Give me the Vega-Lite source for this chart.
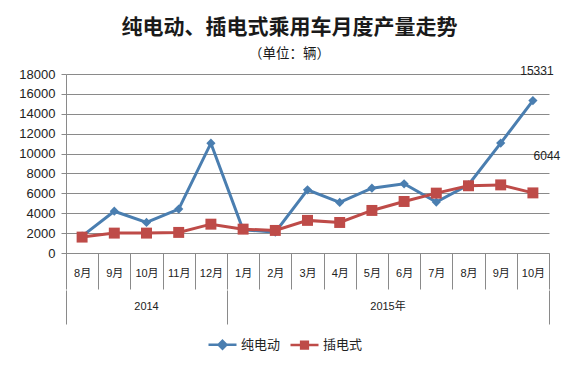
{
  "$schema": "https://vega.github.io/schema/vega-lite/v6.json",
  "background": "white",
  "padding": {"left": 18, "top": 17, "right": 10, "bottom": 5},
  "title": {
    "text": "纯电动、插电式乘用车月度产量走势",
    "subtitle": "（单位：辆）",
    "anchor": "middle",
    "frame": "bounds",
    "font": "Noto Sans CJK SC",
    "fontSize": 21,
    "fontWeight": "bold",
    "color": "#1a1a1a",
    "subtitleFont": "Noto Sans CJK SC",
    "subtitleFontSize": 13.5,
    "subtitleColor": "#1a1a1a",
    "subtitlePadding": 9,
    "offset": 4
  },
  "datasets": {
    "prod": [
      {"key": "2014-8月", "year": "2014", "series": "纯电动", "value": 1700},
      {"key": "2014-9月", "year": "2014", "series": "纯电动", "value": 4200},
      {"key": "2014-10月", "year": "2014", "series": "纯电动", "value": 3070},
      {"key": "2014-11月", "year": "2014", "series": "纯电动", "value": 4420},
      {"key": "2014-12月", "year": "2014", "series": "纯电动", "value": 11040},
      {"key": "2015-1月", "year": "2015年", "series": "纯电动", "value": 2340},
      {"key": "2015-2月", "year": "2015年", "series": "纯电动", "value": 2100},
      {"key": "2015-3月", "year": "2015年", "series": "纯电动", "value": 6350},
      {"key": "2015-4月", "year": "2015年", "series": "纯电动", "value": 5080},
      {"key": "2015-5月", "year": "2015年", "series": "纯电动", "value": 6520},
      {"key": "2015-6月", "year": "2015年", "series": "纯电动", "value": 6960},
      {"key": "2015-7月", "year": "2015年", "series": "纯电动", "value": 5120},
      {"key": "2015-8月", "year": "2015年", "series": "纯电动", "value": 6860},
      {"key": "2015-9月", "year": "2015年", "series": "纯电动", "value": 11050},
      {"key": "2015-10月", "year": "2015年", "series": "纯电动", "value": 15331},
      {"key": "2014-8月", "year": "2014", "series": "插电式", "value": 1600},
      {"key": "2014-9月", "year": "2014", "series": "插电式", "value": 2000},
      {"key": "2014-10月", "year": "2014", "series": "插电式", "value": 2000},
      {"key": "2014-11月", "year": "2014", "series": "插电式", "value": 2070},
      {"key": "2014-12月", "year": "2014", "series": "插电式", "value": 2900},
      {"key": "2015-1月", "year": "2015年", "series": "插电式", "value": 2400},
      {"key": "2015-2月", "year": "2015年", "series": "插电式", "value": 2270},
      {"key": "2015-3月", "year": "2015年", "series": "插电式", "value": 3280},
      {"key": "2015-4月", "year": "2015年", "series": "插电式", "value": 3070},
      {"key": "2015-5月", "year": "2015年", "series": "插电式", "value": 4280},
      {"key": "2015-6月", "year": "2015年", "series": "插电式", "value": 5180},
      {"key": "2015-7月", "year": "2015年", "series": "插电式", "value": 6020},
      {"key": "2015-8月", "year": "2015年", "series": "插电式", "value": 6760},
      {"key": "2015-9月", "year": "2015年", "series": "插电式", "value": 6850},
      {"key": "2015-10月", "year": "2015年", "series": "插电式", "value": 6044}
    ]
  },
  "spacing": 0,
  "resolve": {
    "scale": {"x": "independent", "color": "shared"},
    "legend": {"color": "shared"}
  },
  "vconcat": [
    {
      "width": 483,
      "height": 179,
      "data": {"name": "prod"},
      "encoding": {
        "x": {
          "field": "key",
          "type": "ordinal",
          "sort": null,
          "scale": {"paddingInner": 0, "paddingOuter": 0},
          "axis": {
            "title": null,
            "labelExpr": "split(datum.label, '-')[1]",
            "labelAngle": 0,
            "tickBand": "extent",
            "tickSize": 36,
            "tickColor": "#8a8a8a",
            "domainColor": "#8a8a8a",
            "labelBaseline": "middle",
            "labelPadding": -16,
            "labelFontSize": 11,
            "labelColor": "#222222"
          }
        },
        "y": {
          "field": "value",
          "type": "quantitative",
          "scale": {"domain": [0, 18000], "nice": false},
          "axis": {
            "title": null,
            "format": "d",
            "values": [0, 2000, 4000, 6000, 8000, 10000, 12000, 14000, 16000, 18000],
            "grid": true,
            "gridColor": "#8a8a8a",
            "domainColor": "#8a8a8a",
            "tickColor": "#8a8a8a",
            "tickSize": 5,
            "labelPadding": 6,
            "labelFontSize": 13,
            "labelColor": "#222222"
          }
        }
      },
      "layer": [
        {
          "mark": {"type": "line", "strokeWidth": 3},
          "encoding": {
            "color": {
              "field": "series",
              "type": "nominal",
              "scale": {"domain": ["纯电动", "插电式"], "range": ["#4a7eb0", "#be4b48"]},
              "legend": {
                "orient": "none",
                "legendX": 141,
                "legendY": 255,
                "direction": "horizontal",
                "title": null,
                "labelFontSize": 13,
                "labelColor": "#222222",
                "symbolSize": 784,
                "symbolStrokeWidth": 2.5,
                "labelOffset": 3,
                "columnPadding": 4,
                "encode": {
                  "symbols": {
                    "update": {
                      "shape": {"signal": "datum.value === '纯电动' ? 'M-1,0H1M0,-0.28L0.28,0L0,0.28L-0.28,0Z' : 'M-1,0H1M-0.24,-0.24H0.24V0.24H-0.24Z'"},
                      "fill": {"signal": "datum.value === '纯电动' ? '#4a7eb0' : '#be4b48'"},
                      "stroke": {"signal": "datum.value === '纯电动' ? '#4a7eb0' : '#be4b48'"},
                      "strokeWidth": {"value": 2.5},
                      "opacity": {"value": 1},
                      "fillOpacity": {"value": 1}
                    }
                  }
                }
              }
            }
          }
        },
        {
          "transform": [{"filter": {"field": "series", "equal": "纯电动"}}],
          "mark": {"type": "point", "filled": true, "opacity": 1, "shape": "diamond", "size": 85},
          "encoding": {"color": {"field": "series", "type": "nominal"}}
        },
        {
          "transform": [{"filter": {"field": "series", "equal": "插电式"}}],
          "mark": {"type": "point", "filled": true, "opacity": 1, "shape": "square", "size": 120},
          "encoding": {"color": {"field": "series", "type": "nominal"}}
        },
        {
          "transform": [
            {"filter": {"field": "key", "equal": "2015-10月"}},
            {"filter": {"field": "series", "equal": "纯电动"}}
          ],
          "mark": {"type": "text", "dx": 4, "dy": -30, "fontSize": 12, "color": "#222222"},
          "encoding": {"text": {"field": "value", "type": "quantitative", "format": "d"}}
        },
        {
          "transform": [
            {"filter": {"field": "key", "equal": "2015-10月"}},
            {"filter": {"field": "series", "equal": "插电式"}}
          ],
          "mark": {"type": "text", "dx": 14, "dy": -37, "fontSize": 12, "color": "#222222"},
          "encoding": {"text": {"field": "value", "type": "quantitative", "format": "d"}}
        }
      ]
    },
    {
      "width": 483,
      "height": 34,
      "data": {"name": "prod"},
      "transform": [
        {"filter": {"field": "series", "equal": "纯电动"}},
        {"window": [{"op": "row_number", "as": "n"}]},
        {"aggregate": [{"op": "mean", "field": "n", "as": "pos"}], "groupby": ["year"]}
      ],
      "mark": {"type": "text", "fontSize": 11, "color": "#222222"},
      "encoding": {
        "x": {
          "field": "pos",
          "type": "quantitative",
          "scale": {"domain": [0.5, 15.5], "nice": false, "zero": false},
          "axis": {
            "title": null,
            "values": [0.5, 5.5, 15.5],
            "grid": true,
            "gridColor": "#8a8a8a",
            "labels": false,
            "ticks": false,
            "domain": false
          }
        },
        "text": {"field": "year", "type": "nominal"}
      }
    }
  ],
  "config": {
    "view": {"stroke": null},
    "font": "Liberation Sans, Noto Sans CJK SC",
    "axis": {"labelFont": "Liberation Sans, Noto Sans CJK SC"},
    "legend": {"labelFont": "Liberation Sans, Noto Sans CJK SC"},
    "text": {"font": "Liberation Sans, Noto Sans CJK SC"}
  }
}
